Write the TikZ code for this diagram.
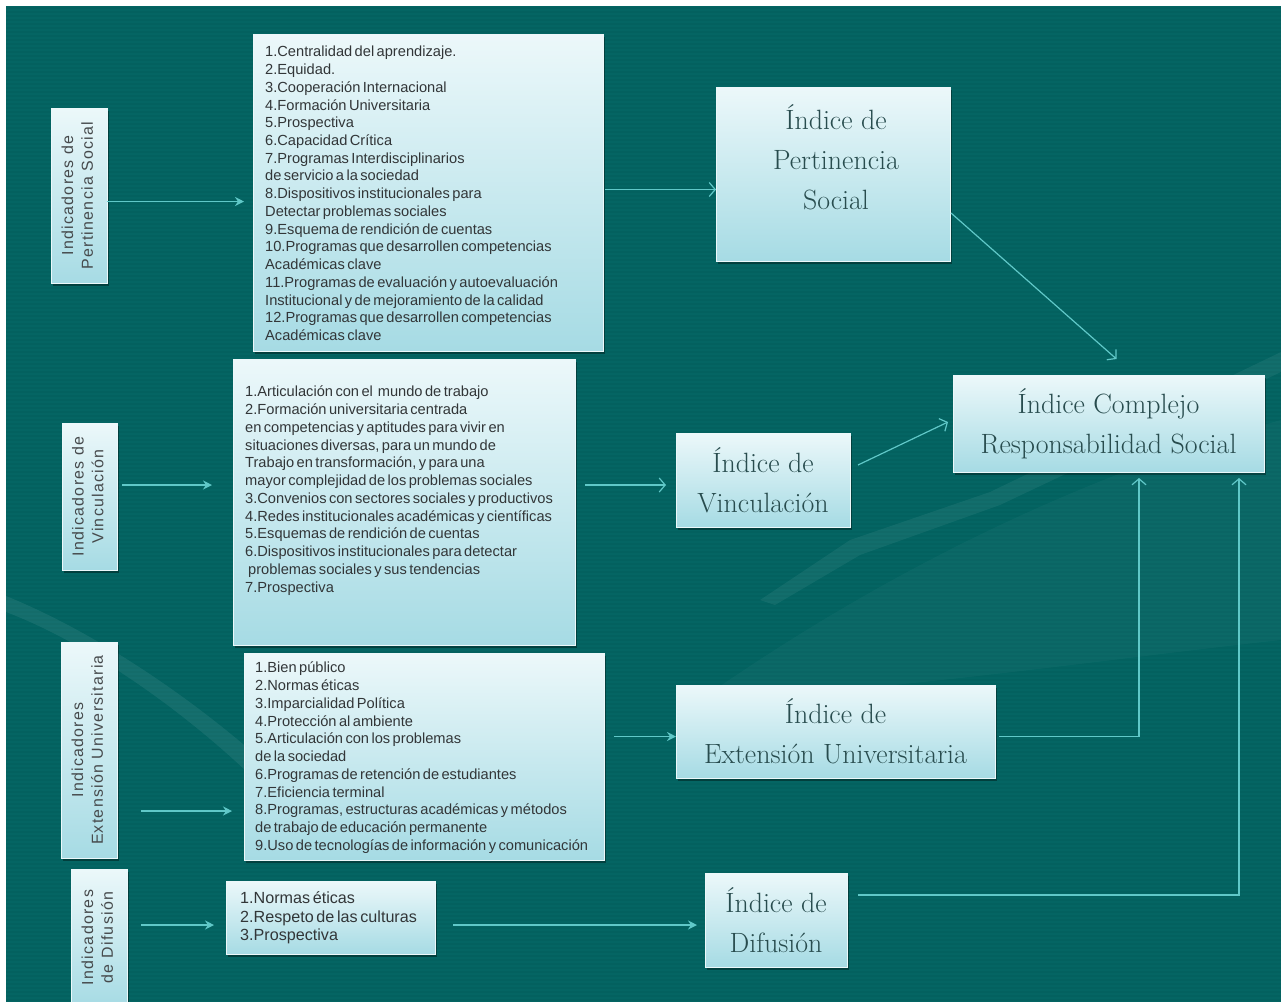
\documentclass[tikz,border=0pt]{standalone}
\usepackage{fontspec}
\newfontfamily\listfont[WordSpace=0.6]{Liberation Sans}
\newfontfamily\vertfont[LetterSpace=8]{Liberation Sans}
\usetikzlibrary{arrows.meta,shadows,calc}
\definecolor{bgteal}{RGB}{4,101,99}
\definecolor{boxtop}{RGB}{236,248,250}
\definecolor{boxbot}{RGB}{166,219,228}
\definecolor{arrcol}{RGB}{96,200,200}
\definecolor{idxtxt}{RGB}{40,76,78}
\definecolor{listtxt}{RGB}{50,54,56}
\definecolor{vtxt}{RGB}{70,74,76}
\begin{document}
\begin{tikzpicture}[x=1bp,y=-1bp,
  box/.style={draw=boxtop, line width=0.6bp, top color=boxtop, bottom color=boxbot,
    inner sep=0pt, outer sep=0pt,
    drop shadow={shadow xshift=2bp, shadow yshift=-3bp, opacity=0.35, fill=black}},
  idxtext/.style={font=\fontsize{28}{40}\selectfont, text=idxtxt, align=center, inner sep=0pt},
  listtext/.style={font=\listfont\fontsize{14.7}{17.8}\selectfont, text=listtxt, align=left,
    anchor=north west, inner sep=0pt},
  inarr/.style={draw=arrcol, line width=1.4bp, -{Stealth[length=9bp,width=9bp]}},
  outarr/.style={draw=arrcol, line width=1.2bp, -{Straight Barb[length=6bp,width=14bp]}},
]
\useasboundingbox (0,0) rectangle (1281,1002);
\fill[white] (0,0) rectangle (1281,1002);
\fill[bgteal] (6,6) rectangle (1281,1002);
% faint scanlines
\foreach \yy in {8,12,...,1000} \draw[black, opacity=0.035, line width=1.5bp] (6,\yy) -- (1281,\yy);
% background swooshes
\fill[white, opacity=0.07] (6,612) .. controls (80,640) and (170,700) .. (245,770)
  -- (250,750) .. controls (180,690) and (90,630) .. (6,596) -- cycle;
\fill[white, opacity=0.06] (760,600) -- (850,540) -- (990,492) -- (1281,352) -- (1281,372) -- (1000,505) -- (860,555) -- (775,605) -- cycle;
\fill[white, opacity=0.03] (700,700) .. controls (900,560) and (1100,470) .. (1281,420) -- (1281,640) .. controls (1100,660) and (900,690) .. (700,700) -- cycle;

% ---- left vertical boxes
\node[box, minimum width=56bp, minimum height=175bp] (IPS) at (79,195.5)
  {\rotatebox{90}{\vertfont\fontsize{16}{20}\selectfont\color{vtxt}\begin{tabular}{@{}c@{}}Indicadores de\\Pertinencia Social\end{tabular}}};
\node[box, minimum width=55bp, minimum height=147bp] (IV) at (89.5,496.5)
  {\rotatebox{90}{\vertfont\fontsize{16}{20}\selectfont\color{vtxt}\begin{tabular}{@{}c@{}}Indicadores de\\Vinculación\end{tabular}}};
\node[box, minimum width=56bp, minimum height=216bp] (IE) at (89,750)
  {\rotatebox{90}{\vertfont\fontsize{16}{20}\selectfont\color{vtxt}\begin{tabular}{@{}c@{}}Indicadores\\Extensión Universitaria\end{tabular}}};
\node[box, minimum width=56bp, minimum height=137bp] (ID) at (99,937.5)
  {\rotatebox{90}{\vertfont\fontsize{16}{20}\selectfont\color{vtxt}\begin{tabular}{@{}c@{}}Indicadores\\de Difusión\end{tabular}}};

% ---- list boxes
\node[box, minimum width=350bp, minimum height=317bp] (L1) at (428,192.5) {};
\node[listtext] (L1t) at (265,46) {1.Centralidad del aprendizaje.\\2.Equidad.\\3.Cooperación Internacional\\4.Formación Universitaria\\5.Prospectiva\\6.Capacidad Crítica\\7.Programas Interdisciplinarios\\de servicio a la sociedad\\8.Dispositivos institucionales para\\Detectar problemas sociales\\9.Esquema de rendición de cuentas\\10.Programas que desarrollen competencias\\Académicas clave\\11.Programas de evaluación y autoevaluación\\Institucional y de mejoramiento de la calidad\\12.Programas que desarrollen competencias\\Académicas clave};

\node[box, minimum width=342bp, minimum height=286bp] (L2) at (404,502) {};
\node[listtext] (L2t) at (245,386) {1.Articulación con el \ mundo de trabajo\\2.Formación universitaria centrada\\en competencias y aptitudes para vivir en\\situaciones diversas, para un mundo de\\Trabajo en transformación, y para una\\mayor complejidad de los problemas sociales\\3.Convenios con sectores sociales y productivos\\4.Redes institucionales académicas y científicas\\5.Esquemas de rendición de cuentas\\6.Dispositivos institucionales para detectar\\\hspace*{3bp}problemas sociales y sus tendencias\\7.Prospectiva};

\node[box, minimum width=360bp, minimum height=207bp] (L3) at (424,756.5) {};
\node[listtext] (L3t) at (255,662) {1.Bien público\\2.Normas éticas\\3.Imparcialidad Política\\4.Protección al ambiente\\5.Articulación con los problemas\\de la sociedad\\6.Programas de retención de estudiantes\\7.Eficiencia terminal\\8.Programas, estructuras académicas y métodos\\de trabajo de educación permanente\\9.Uso de tecnologías de información y comunicación};

\node[box, minimum width=209bp, minimum height=73bp] (L4) at (330.5,917.5) {};
\node[listtext, font=\listfont\fontsize{16.2}{19}\selectfont] (L4t) at (240,891) {1.Normas éticas\\2.Respeto de las culturas\\3.Prospectiva};

% ---- index boxes
\node[box, minimum width=234bp, minimum height=174bp] (P) at (833,174) {};
\node[idxtext] (Pt) at (836,157) {Índice de\\Pertinencia\\Social};
\node[box, idxtext, minimum width=174bp, minimum height=94bp] (V) at (763,480) {Índice de\\Vinculación};
\node[box, idxtext, minimum width=311bp, minimum height=97bp] (C) at (1108.5,423.5) {Índice Complejo\\Responsabilidad Social};
\node[box, idxtext, minimum width=319bp, minimum height=93bp] (E) at (835.5,731.5) {Índice de\\Extensión Universitaria};
\node[box, idxtext, minimum width=142bp, minimum height=94bp] (D) at (776,920) {Índice de\\Difusión};

% ---- connectors
\draw[inarr] ($(IPS.east)+(0,6)$) -- ($(IPS.east -| L1.west)+(-9,6)$);
\draw[outarr] ($(L1.east)+(2,-3)$) -- ($(L1.east -| P.west)+(0,-3)$);
\draw[outarr] ($(P.east)+(1,39)$) -- ($(C.north)+(8,-16)$);
\draw[inarr] ($(IV.east)+(5,-11.5)$) -- ($(IV.east -| L2.west)+(-21,-11.5)$);
\draw[outarr] ($(L2.east)+(10,-17)$) -- ($(L2.east -| V.west)+(-10,-17)$);
\draw[outarr] ($(V.east)+(8,-15)$) -- ($(C.west)+(-5,-1.5)$);
\draw[inarr] ($(IE.east)+(24,61)$) -- ($(IE.east -| L3.west)+(-12,61)$);
\draw[inarr] ($(L3.east |- E.west)+(10,5)$) -- ($(E.west)+(0,5)$);
\draw[outarr] ($(E.east)+(4,5)$) -| ($(C.south)+(30.5,6)$);
\draw[inarr] ($(ID.east)+(14,-12.5)$) -- ($(ID.east -| L4.west)+(-12,-12.5)$);
\draw[inarr] ($(L4.east)+(18,7.5)$) -- ($(L4.east -| D.west)+(-8,7.5)$);
\draw[outarr] ($(D.east)+(11,-25)$) -| ($(C.south)+(130.5,6)$);
\end{tikzpicture}
\end{document}
